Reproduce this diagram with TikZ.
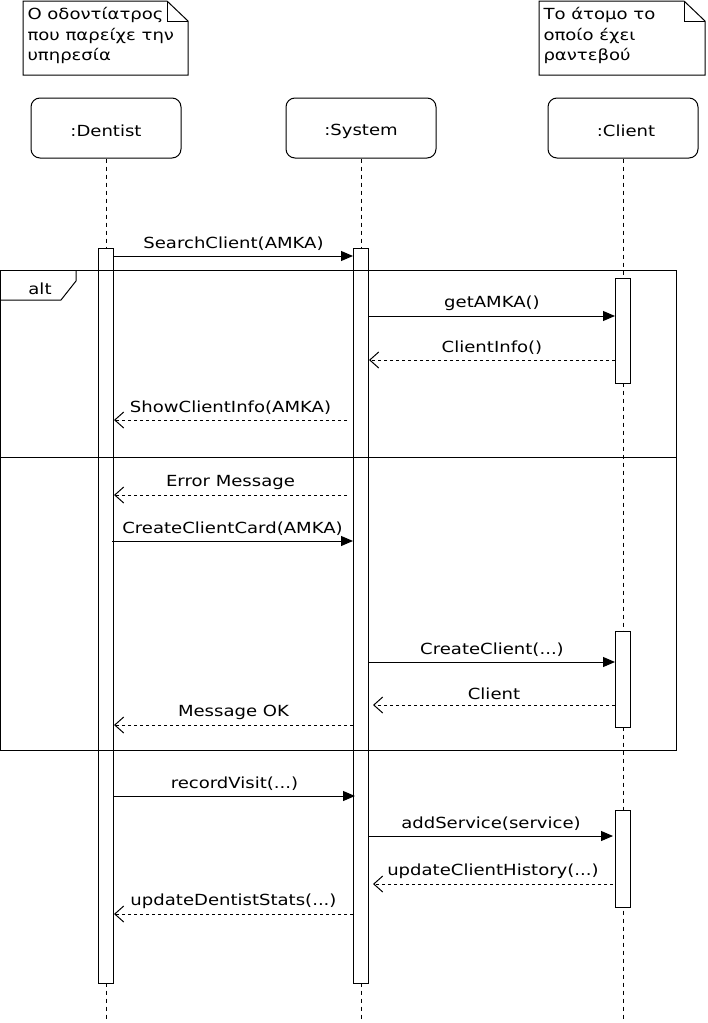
\documentclass[tikz,border=0pt]{standalone}
\usepackage{fontspec}
\setmainfont[FakeStretch=1.18]{DejaVu Sans}
\usetikzlibrary{arrows.meta,calc}
\begin{document}
\begin{tikzpicture}[x=1pt,y=-1pt,line width=1pt,
  every node/.style={font=\fontsize{15.3}{20.5}\selectfont},
  actor/.style={draw,rounded corners=9pt,minimum width=150pt,minimum height=60pt,inner sep=0pt},
  actbar/.style={draw,fill=white,minimum width=15pt,inner sep=0pt},
  lifeline/.style={dash pattern=on 4pt off 4pt},
  msg/.style={-{Triangle[length=12pt,width=10pt]}},
  ret/.style={dash pattern=on 3pt off 3pt,-{Straight Barb[length=9pt,width=16pt,line width=1pt]}},
  lbl/.style={above,inner sep=0pt,yshift=5pt}
]
\useasboundingbox (0,0) rectangle (707,1023);
% notes
\draw (23,1) -- (167,1) -- (188,21) -- (188,75) -- (23,75) -- cycle;
\draw (167,1) -- (167,21) -- (188,21);
\node[anchor=north west,align=left,inner sep=0pt] (n1) at (27,7) {Ο οδοντίατρος\\που παρείχε την\\υπηρεσία};
\draw (539,1) -- (684,1) -- (705,21) -- (705,75) -- (539,75) -- cycle;
\draw (684,1) -- (684,21) -- (705,21);
\node[anchor=north west,align=left,inner sep=0pt] (n2) at (543,7) {Το άτομο το\\οποίο έχει\\ραντεβού};
% actors
\node[actor] (dent) at (106,128) {};
\node[actor] (sys) at (361,128) {};
\node[actor] (cli) at (623,128) {};
\node (dentl) at ([yshift=-3pt]dent.center) {:Dentist};
\node (sysl) at ([yshift=-3pt]sys.center) {:System};
\node (clil) at ([xshift=3pt,yshift=-3pt]cli.center) {:Client};
% lifelines
\coordinate (bot) at (0,1020);
\draw[lifeline] (dent.south) -- (dent.south |- bot);
\draw[lifeline] (sys.south) -- (sys.south |- bot);
\draw[lifeline] (cli.south) -- (cli.south |- bot);
% activation bars
\node[actbar,minimum height=735pt,anchor=north] (da) at (106,248) {};
\node[actbar,minimum height=735pt,anchor=north] (sa) at (361,248) {};
\node[actbar,minimum height=105pt,anchor=north] (ca1) at (623,278) {};
\node[actbar,minimum height=96pt,anchor=north] (ca2) at (623,631) {};
\node[actbar,minimum height=97pt,anchor=north] (ca3) at (623,810) {};
% alt frame
\draw (0,270) rectangle (676,750);
\draw (0,457) -- (676,457);
\draw (76,270) -- (76,281) -- (61,300) -- (0,300);
\node (alt) at (40,289) {alt};
% message rows
\coordinate (m1) at (0,256);
\coordinate (m2) at (0,316);
\coordinate (m3) at (0,360);
\coordinate (m4) at (0,420);
\coordinate (m5) at (0,495);
\coordinate (m6) at (0,541);
\coordinate (m7) at (0,662);
\coordinate (m8) at (0,705);
\coordinate (m9) at (0,725);
\coordinate (m10) at (0,796);
\coordinate (m11) at (0,836);
\coordinate (m12) at (0,884);
\coordinate (m13) at (0,914);
\draw[msg] (da.east |- m1) -- node[lbl] {SearchClient(AMKA)} (sa.west |- m1);
\draw[msg] (sa.east |- m2) -- node[lbl] {getAMKA()} (ca1.west |- m2);
\draw[ret] (ca1.west |- m3) -- node[lbl] {ClientInfo()} (sa.east |- m3);
\draw[ret] ($(sa.west |- m4)+(-6,0)$) -- node[lbl] {ShowClientInfo(AMKA)} (da.east |- m4);
\draw[ret] ($(sa.west |- m5)+(-6,0)$) -- node[lbl] {Error Message} (da.east |- m5);
\draw[msg] ($(da.east |- m6)+(-2,0)$) -- node[lbl] {CreateClientCard(AMKA)} (sa.west |- m6);
\draw[msg] (sa.east |- m7) -- node[lbl] {CreateClient(...)} (ca2.west |- m7);
\draw[ret] (ca2.west |- m8) -- node[lbl] {Client} ($(sa.east |- m8)+(4,0)$);
\draw[ret] (sa.west |- m9) -- node[lbl] {Message OK} (da.east |- m9);
\draw[msg] (da.east |- m10) -- node[lbl] {recordVisit(...)} ($(sa.west |- m10)+(2,0)$);
\draw[msg] (sa.east |- m11) -- node[lbl] {addService(service)} ($(ca3.west |- m11)+(-2,0)$);
\draw[ret] ($(ca3.west |- m12)+(-2,0)$) -- node[lbl] {updateClientHistory(...)} ($(sa.east |- m12)+(4,0)$);
\draw[ret] (sa.west |- m13) -- node[lbl] {updateDentistStats(...)} (da.east |- m13);
\end{tikzpicture}
\end{document}
